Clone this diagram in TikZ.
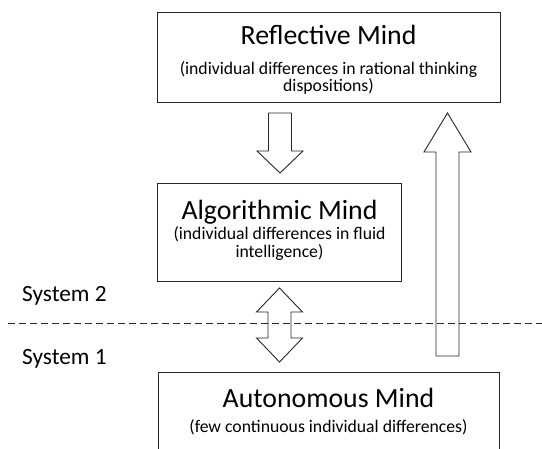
\documentclass[tikz,border=0pt]{standalone}
\usepackage{fontspec}
\setmainfont{Carlito}
\begin{document}
\begin{tikzpicture}[x=1pt,y=-1pt,
  box/.style={draw=black!85, line width=0.9pt, fill=white, inner sep=0pt},
  blockarrow/.style={draw=black!85, line width=0.9pt, fill=white, line join=miter},
  titletext/.style={font=\fontsize{27.8}{30}\selectfont, anchor=base, inner sep=0pt},
  subtext/.style={font=\fontsize{17.7}{20}\selectfont, anchor=base, inner sep=0pt},
  systext/.style={font=\fontsize{23.3}{26}\selectfont, anchor=base west, inner sep=0pt},
  divider/.style={draw=black!85, line width=0.9pt, dash pattern=on 7pt off 4pt}]
\useasboundingbox (0,0) rectangle (542,449);
% boxes
\node[box, minimum width=343pt, minimum height=90pt] (refl) at (328.5,57) {};
\node[box, minimum width=244pt, minimum height=98pt] (algo) at (279,232) {};
\draw[box] (158,460) -- (158,372) coordinate (autoTL) -- (499,372) coordinate (autoTR) -- (499,460);
\coordinate (auto) at (328.5,372);
% texts
\node[titletext] (reflT) at (328.5,45) {Reflective Mind};
\node[subtext] (reflS1) at (328.5,75) {(individual differences in rational thinking};
\node[subtext] (reflS2) at (328.5,92) {dispositions)};
\node[titletext] (algoT) at (279.5,220) {Algorithmic Mind};
\node[subtext] (algoS1) at (279.5,240) {(individual differences in fluid};
\node[subtext] (algoS2) at (279.5,258) {intelligence)};
\node[titletext] (autoT) at (328.5,408) {Autonomous Mind};
\node[subtext] (autoS) at (328.5,433) {(few continuous individual differences)};
\node[systext] (sys2) at (22,302) {System 2};
\node[systext] (sys1) at (22,365) {System 1};
% down arrow (reflective -> algorithmic)
\draw[blockarrow] (268.5,113) -- (291.5,113) -- (291.5,151) -- (303,151) -- (280,173)
  -- (257,151) -- (268.5,151) -- cycle;
% up arrow (autonomous -> reflective)
\draw[blockarrow] (436,356) -- (459,356) -- (459,152) -- (471,152) -- (447.5,113)
  -- (424,152) -- (436,152) -- cycle;
% double arrow (algorithmic <-> autonomous)
\draw[blockarrow] (279.5,288) -- (302.5,312) -- (291,312) -- (291,338) -- (302.5,338)
  -- (279.5,362) -- (256.5,338) -- (268,338) -- (268,312) -- (256.5,312) -- cycle;
% divider
\coordinate (divL) at (4,323);
\coordinate (divR) at (542,323);
\draw[divider, dash phase=7pt] (divL) -- (divR);
\end{tikzpicture}
\end{document}
